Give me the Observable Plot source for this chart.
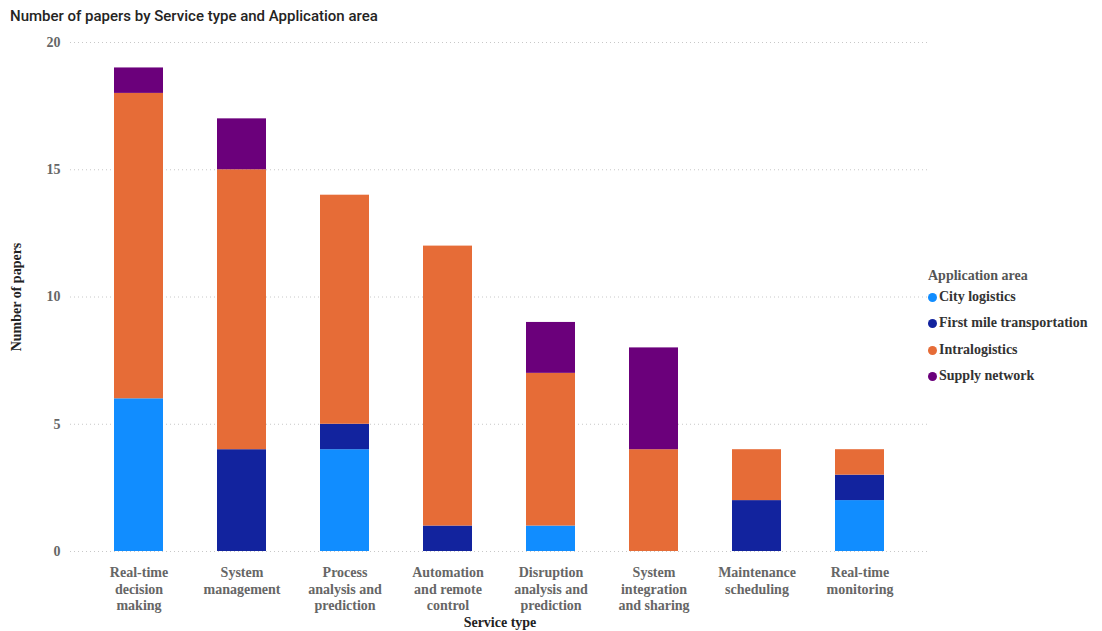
<!DOCTYPE html>
<html><head><meta charset="utf-8">
<script src="https://cdn.jsdelivr.net/npm/d3@7"></script>
<script src="https://cdn.jsdelivr.net/npm/@observablehq/plot@0.6"></script>
<style>
body{margin:0;background:#fff;}
#wrap{position:relative;width:1102px;height:631px;overflow:hidden;}
#title{position:absolute;left:10px;top:7px;font-family:Roboto,"Open Sans",sans-serif;font-size:15px;font-weight:500;color:#252423;}
#legend{position:absolute;left:928px;top:268px;font-family:"Liberation Serif","DejaVu Serif",serif;font-weight:bold;font-size:14px;}
#legend .t{color:#555;margin-bottom:5px;}
#legend .i{color:#333;height:26.3px;display:flex;align-items:flex-start;}
#legend .d{width:9px;height:9px;border-radius:50%;margin-right:2px;margin-top:4px;}
svg text, svg tspan{font-family:"Liberation Serif","DejaVu Serif",serif !important;}
</style></head>
<body><div id="wrap"><div id="title">Number of papers by Service type and Application area</div><div id="legend"></div></div>
<script>
const serviceTypes = ["Real-time\ndecision\nmaking","System\nmanagement","Process\nanalysis and\nprediction","Automation\nand remote\ncontrol","Disruption\nanalysis and\nprediction","System\nintegration\nand sharing","Maintenance\nscheduling","Real-time\nmonitoring"];
const areas = ["City logistics","First mile transportation","Intralogistics","Supply network"];
const colors = ["#118DFF","#12239E","#E66C37","#6B007B"];
const cityLogistics = [6,0,4,0,1,0,0,2];
const firstMile =     [0,4,1,1,0,0,2,1];
const intralogistics =[12,11,9,11,6,4,2,1];
const supplyNetwork = [1,2,0,0,2,4,0,0];
const yTicks = [0,5,10,15,20];

const series = [cityLogistics, firstMile, intralogistics, supplyNetwork];
const data = [];
serviceTypes.forEach((s,i)=>areas.forEach((a,j)=>{ if(series[j][i]>0) data.push({service:s, area:a, value:series[j][i]}); }));

const serif = "Liberation Serif, DejaVu Serif, serif";
const chart = Plot.plot({
  width:1102, height:631,
  marginTop:42, marginBottom:80, marginLeft:70, marginRight:173,
  style:{fontFamily:serif, background:"transparent"},
  x:{domain:serviceTypes, paddingInner:0.52, paddingOuter:0.4, label:null},
  y:{domain:[0,20], ticks:yTicks, label:null},
  color:{domain:areas, range:colors},
  marks:[
    Plot.ruleY(yTicks,{stroke:"#c8c8c8", strokeDasharray:"1,3"}),
    Plot.barY(data,{x:"service", y:"value", fill:"area", order:areas}),
    Plot.axisY({ticks:yTicks, tickSize:0, tickPadding:10, fontSize:14, fontWeight:"bold", fill:"#666", label:null}),
    Plot.axisX({tickSize:0, tickPadding:14, fontSize:14, fontWeight:"bold", fill:"#666", lineHeight:1.18, textAnchor:"middle", label:null})
  ]
});
const wrap = document.getElementById("wrap");
wrap.insertBefore(chart, wrap.firstChild);
chart.style.position="absolute"; chart.style.left="0"; chart.style.top="0";

const svg = d3.select(chart);
svg.append("text").attr("x",500).attr("y",627).attr("text-anchor","middle")
  .attr("font-weight","bold").attr("font-size",14).attr("fill","#222").text("Service type");
svg.append("text").attr("transform","translate(21,297) rotate(-90)").attr("text-anchor","middle")
  .attr("font-weight","bold").attr("font-size",14).attr("fill","#222").text("Number of papers");

const lg = d3.select("#legend");
lg.append("div").attr("class","t").text("Application area");
areas.forEach((a,i)=>{ const it = lg.append("div").attr("class","i"); it.append("div").attr("class","d").style("background",colors[i]); it.append("span").text(a); });
</script></body></html>
